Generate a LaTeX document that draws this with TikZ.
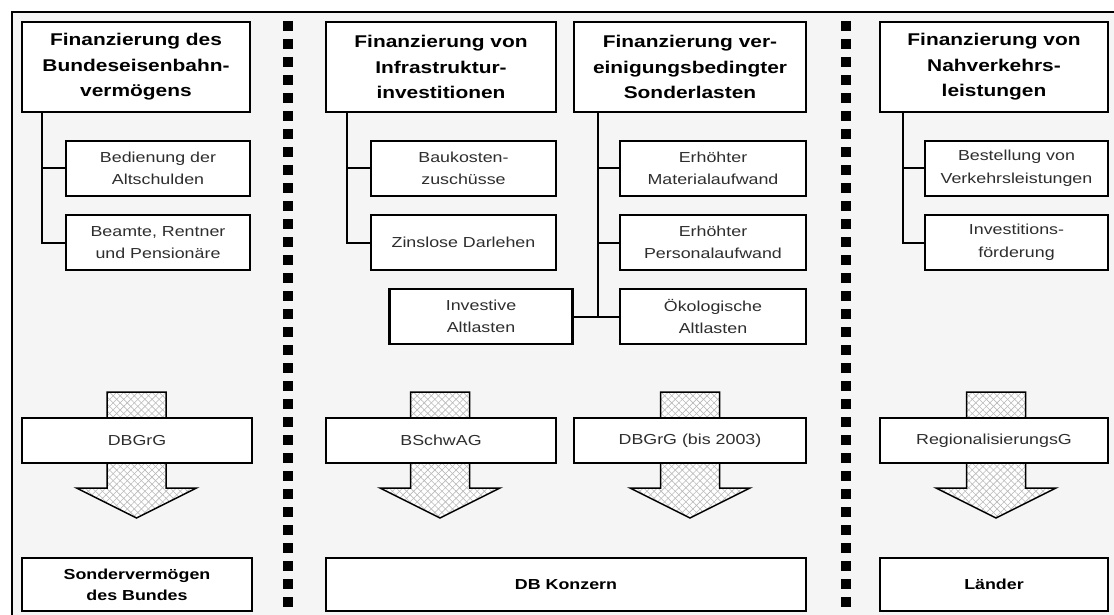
\documentclass[tikz,border=0pt]{standalone}
\usepackage{fontspec}
\setmainfont{Liberation Sans}[FakeStretch=1.23]
\usetikzlibrary{patterns.meta}
\tikzset{
  box/.style={draw=black, line width=2.2pt, fill=white, inner sep=0pt, align=center},
  titlebox/.style={box, minimum width=228pt, minimum height=90pt,
     font=\fontsize{17}{25.5}\selectfont\bfseries},
  subbox/.style={box, minimum width=184pt, minimum height=55pt,
     font=\fontsize{14.5}{22.5}\selectfont, text=black!82},
  lawbox/.style={box, minimum width=230pt, minimum height=45pt,
     font=\fontsize{14.5}{22.5}\selectfont, text=black!82},
  endbox/.style={box, minimum width=230pt, minimum height=53pt,
     font=\fontsize{14.5}{21}\selectfont\bfseries},
  conn/.style={draw=black, line width=2pt},
  sep/.style={line width=10pt, dash pattern=on 10pt off 8pt},
  arrowshape/.style={draw=black, line width=1.5pt, line join=miter,
     preaction={fill=white},
     preaction={pattern={Lines[angle=45,distance=5pt,line width=0.6pt]}, pattern color=gray!55},
     pattern={Lines[angle=-45,distance=5pt,line width=0.6pt]}, pattern color=gray!55}
}
\newcommand\myarrow[1]{\path[arrowshape] (#1-29.5,392) -- (#1+29.5,392) -- (#1+29.5,488) -- (#1+60,488) -- (#1,518) -- (#1-60,488) -- (#1-29.5,488) -- cycle;}
\begin{document}
\begin{tikzpicture}[x=1pt,y=-1pt]
\useasboundingbox (0,0) rectangle (1114,615);
\fill[white] (0,0) rectangle (1114,615);
\fill[black!4] (12,12) rectangle (1114,615);
\draw[line width=2.5pt] (12,615) -- (12,12) -- (1114,12);
% separators
\draw[sep] (288,21) -- (288,615);
\draw[sep] (845.5,21) -- (845.5,615);

% column 1
\node[titlebox] (t1) at (136,67) {Finanzierung des\\Bundeseisenbahn-\\vermögens};
\node[subbox] (s11) at (158,168.5) {Bedienung der\\Altschulden};
\node[subbox] (s12) at (158,242.5) {Beamte, Rentner\\und Pensionäre};
\coordinate (c1) at (42,112);
\draw[conn] (c1) |- (s12.west);
\draw[conn] (c1 |- s11.west) -- (s11.west);

% column 2
\node[titlebox, minimum width=230pt] (t2) at (441,67) {Finanzierung von\\Infrastruktur-\\investitionen};
\node[subbox, minimum width=185pt] (s21) at (463.5,168.5) {Baukosten-\\zuschüsse};
\node[subbox, minimum width=185pt] (s22) at (463.5,242.5) {Zinslose Darlehen};
\coordinate (c2) at (347,112);
\draw[conn] (c2) |- (s22.west);
\draw[conn] (c2 |- s21.west) -- (s21.west);

% column 3
\node[titlebox, minimum width=232pt] (t3) at (690,67) {Finanzierung ver-\\einigungsbedingter\\Sonderlasten};
\node[subbox, minimum width=186pt] (s31) at (713,168.5) {Erhöhter\\Materialaufwand};
\node[subbox, minimum width=186pt] (s32) at (713,242.5) {Erhöhter\\Personalaufwand};
\node[subbox, minimum width=186pt] (s33) at (713,316.5) {Ökologische\\Altlasten};
\node[subbox, minimum width=183pt] (s34) at (481,316.5) {Investive\\Altlasten};
\coordinate (c3) at (598,112);
\draw[conn] (c3) -- (c3 |- s33.west);
\draw[conn] (s34.east) -- (s33.west);
\draw[conn] (c3 |- s31.west) -- (s31.west);
\draw[conn] (c3 |- s32.west) -- (s32.west);

% column 4
\node[titlebox] (t4) at (994,67) {Finanzierung von\\Nahverkehrs-\\leistungen};
\node[subbox, minimum width=183pt] (s41) at (1016.5,168.5) {Bestellung von\\Verkehrsleistungen};
\node[subbox, minimum width=183pt] (s42) at (1016.5,242.5) {Investitions-\\förderung};
\coordinate (c4) at (903,112);
\draw[conn] (c4) |- (s42.west);
\draw[conn] (c4 |- s41.west) -- (s41.west);

% block arrows
\myarrow{136.5}
\myarrow{440}
\myarrow{690}
\myarrow{996}

% law boxes
\node[lawbox] (l1) at (137,440.5) {DBGrG};
\node[lawbox] (l2) at (441,440.5) {BSchwAG};
\node[lawbox, minimum width=232pt] (l3) at (690,440.5) {DBGrG (bis 2003)};
\node[lawbox, minimum width=228pt] (l4) at (994,440.5) {RegionalisierungsG};

% recipients
\node[endbox] (b1) at (137,584.5) {Sondervermögen\\des Bundes};
\node[endbox, minimum width=480pt] (b2) at (566,584.5) {DB Konzern};
\node[endbox, minimum width=228pt] (b3) at (994,584.5) {Länder};
\end{tikzpicture}
\end{document}
